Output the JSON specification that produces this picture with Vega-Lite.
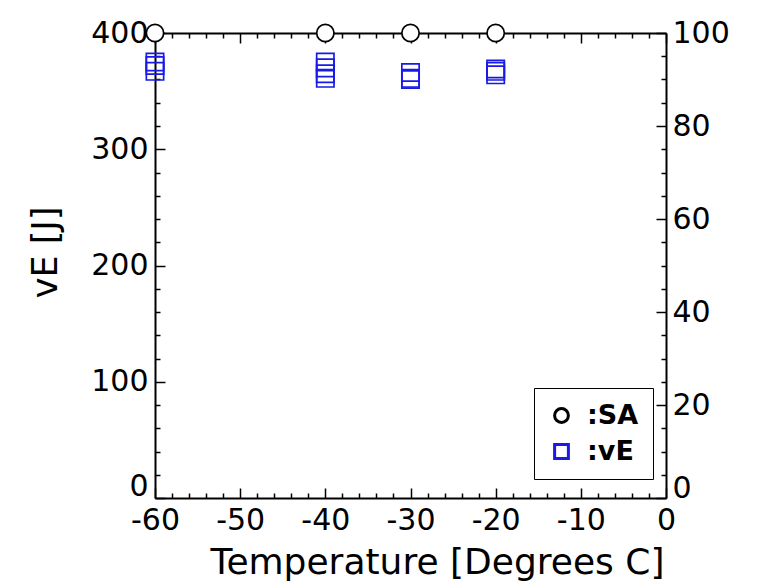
{
  "$schema": "https://vega.github.io/schema/vega-lite/v6.json",
  "width": 511,
  "height": 465,
  "autosize": {"type": "none"},
  "padding": {"left": 155, "top": 33, "right": 95, "bottom": 84},
  "background": "white",
  "config": {
    "view": {"stroke": null},
    "font": "DejaVu Sans",
    "axis": {
      "grid": false,
      "domainColor": "black",
      "domainWidth": 2,
      "tickColor": "black",
      "tickWidth": 1.5,
      "labelColor": "black",
      "titleColor": "black",
      "labelFont": "DejaVu Sans",
      "titleFont": "DejaVu Sans",
      "labelFontSize": 30,
      "titleFontSize": 35,
      "titleFontWeight": "normal",
      "labelFlush": false,
      "labelOverlap": false
    }
  },
  "data": {
    "values": [
      {"temp": -60, "series": "SA", "value": 400},
      {"temp": -40, "series": "SA", "value": 400},
      {"temp": -30, "series": "SA", "value": 400},
      {"temp": -20, "series": "SA", "value": 400},
      {"temp": -60, "series": "vE", "value": 375},
      {"temp": -60, "series": "vE", "value": 372},
      {"temp": -60, "series": "vE", "value": 367},
      {"temp": -40, "series": "vE", "value": 375},
      {"temp": -40, "series": "vE", "value": 370},
      {"temp": -40, "series": "vE", "value": 365},
      {"temp": -40, "series": "vE", "value": 361},
      {"temp": -30, "series": "vE", "value": 366},
      {"temp": -30, "series": "vE", "value": 361},
      {"temp": -30, "series": "vE", "value": 360},
      {"temp": -20, "series": "vE", "value": 369},
      {"temp": -20, "series": "vE", "value": 367},
      {"temp": -20, "series": "vE", "value": 364}
    ]
  },
  "resolve": {"scale": {"x": "independent", "y": "independent"}},
  "layer": [
    {
      "mark": {"type": "point", "opacity": 0},
      "encoding": {
        "x": {"field": "temp", "type": "quantitative", "scale": {"domain": [-60, 0], "nice": false, "zero": false},
          "axis": {"orient": "bottom", "values": [-58,-56,-54,-52,-48,-46,-44,-42,-38,-36,-34,-32,-28,-26,-24,-22,-18,-16,-14,-12,-8,-6,-4,-2], "labels": false, "tickSize": -5, "domain": false, "title": null}},
        "y": {"field": "value", "type": "quantitative", "scale": {"domain": [0, 400], "nice": false, "zero": false},
          "axis": {"orient": "left", "values": [20,40,60,80,120,140,160,180,220,240,260,280,320,340,360,380], "labels": false, "tickSize": -5, "domain": false, "title": null}}
      }
    },
    {
      "mark": {"type": "point", "opacity": 0},
      "encoding": {
        "x": {"field": "temp", "type": "quantitative", "scale": {"domain": [-60, 0], "nice": false, "zero": false},
          "axis": {"orient": "top", "values": [-58,-56,-54,-52,-48,-46,-44,-42,-38,-36,-34,-32,-28,-26,-24,-22,-18,-16,-14,-12,-8,-6,-4,-2], "labels": false, "tickSize": -5, "domain": false, "title": null}},
        "y": {"field": "value", "type": "quantitative", "scale": {"domain": [0, 100], "nice": false, "zero": false},
          "axis": {"orient": "right", "values": [5,10,15,25,30,35,45,50,55,65,70,75,85,90,95], "labels": false, "tickSize": -5, "domain": false, "title": null}}
      }
    },
    {
      "mark": {"type": "point", "opacity": 0},
      "encoding": {
        "x": {"field": "temp", "type": "quantitative", "scale": {"domain": [-60, 0], "nice": false, "zero": false},
          "axis": {"orient": "top", "values": [-60,-50,-40,-30,-20,-10,0], "labels": false, "tickSize": -10, "domain": true, "title": null}},
        "y": {"field": "value", "type": "quantitative", "scale": {"domain": [0, 100], "nice": false, "zero": false},
          "axis": {"orient": "right", "values": [0,20,40,60,80,100], "tickSize": -10, "labelPadding": 16, "domain": true, "title": null,
            "labelOffset": {"condition": {"test": "datum.value === 0", "value": -10}, "value": 0}}}
      }
    },
    {
      "mark": {"type": "point", "size": 300, "strokeWidth": 1.7, "opacity": 1},
      "encoding": {
        "x": {"field": "temp", "type": "quantitative", "scale": {"domain": [-60, 0], "nice": false, "zero": false},
          "axis": {"orient": "bottom", "values": [-60,-50,-40,-30,-20,-10,0], "tickSize": -10, "labelPadding": 17, "labelExpr": "'' + datum.value", "domain": true,
            "title": "Temperature [Degrees C]", "titleFontSize": 36, "titleX": 282, "titleY": 75, "titleAlign": "center", "titleBaseline": "alphabetic"}},
        "y": {"field": "value", "type": "quantitative", "scale": {"domain": [0, 400], "nice": false, "zero": false},
          "axis": {"orient": "left", "values": [0,100,200,300,400], "tickSize": -10, "labelPadding": 17, "domain": true,
            "labelOffset": {"condition": {"test": "datum.value === 0", "value": -12}, "value": 0},
            "title": "vE [J]", "titleX": -110, "titleY": 219, "titleAlign": "center", "titleBaseline": "middle", "titleAngle": -90}},
        "shape": {"field": "series", "type": "nominal", "scale": {"domain": ["SA", "vE"], "range": ["circle", "square"]},
          "legend": {"orient": "none", "legendX": 379, "legendY": 355, "title": null, "labelExpr": "':' + datum.label",
            "labelFont": "DejaVu Sans", "labelFontSize": 27, "labelFontWeight": "bold", "symbolSize": 190, "symbolStrokeWidth": 3,
            "padding": 14, "rowPadding": 8, "labelOffset": 12, "symbolOffset": 0, "fillColor": "white", "strokeColor": "black",
            "encode": {"legend": {"update": {"strokeWidth": {"value": 2}}}, "labels": {"update": {"fill": {"signal": "datum.value === 'vE' ? '#1a1ae6' : 'black'"}}}}}},
        "stroke": {"field": "series", "type": "nominal", "scale": {"domain": ["SA", "vE"], "range": ["black", "#1a1ae6"]},
          "legend": {"orient": "none", "legendX": 379, "legendY": 355, "title": null, "labelExpr": "':' + datum.label",
            "labelFont": "DejaVu Sans", "labelFontSize": 27, "labelFontWeight": "bold", "symbolSize": 190, "symbolStrokeWidth": 3,
            "padding": 14, "rowPadding": 8, "labelOffset": 12, "symbolOffset": 0, "fillColor": "white", "strokeColor": "black",
            "encode": {"legend": {"update": {"strokeWidth": {"value": 2}}}, "labels": {"update": {"fill": {"signal": "datum.value === 'vE' ? '#1a1ae6' : 'black'"}}}}}},
        "fill": {"field": "series", "type": "nominal", "scale": {"domain": ["SA", "vE"], "range": ["white", "transparent"]}, "legend": null}
      }
    }
  ]
}
